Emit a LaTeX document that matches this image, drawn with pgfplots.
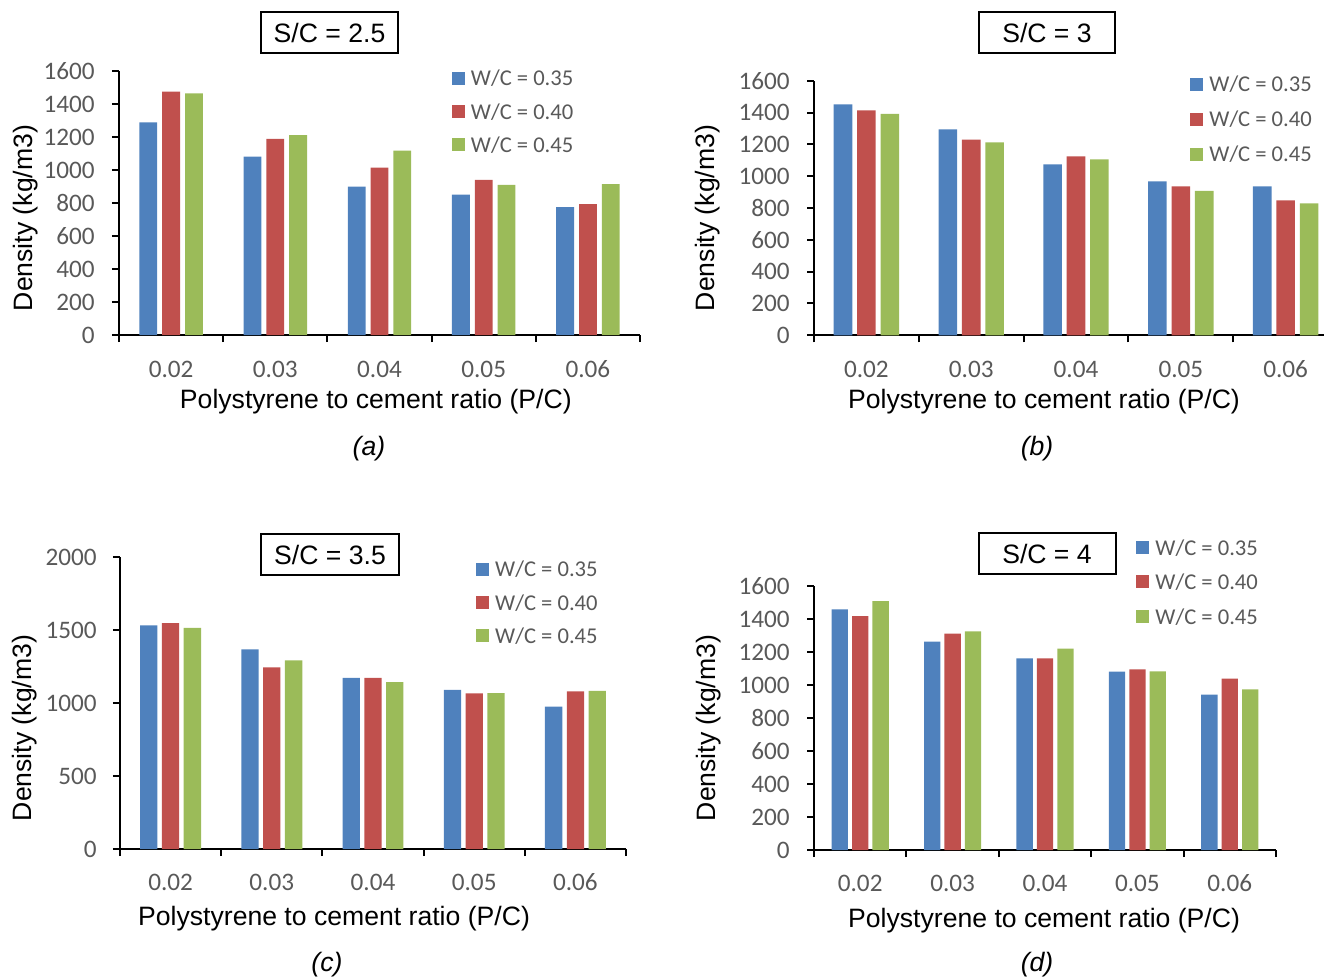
\documentclass[border=0pt]{standalone}
\usepackage{pgfplots}
\pgfplotsset{compat=1.18}
\usepackage{fontspec}
\setmainfont{Liberation Sans}
\newfontfamily\carlito{Carlito}

\definecolor{wcA}{HTML}{4F81BD}
\definecolor{wcB}{HTML}{C0504D}
\definecolor{wcC}{HTML}{9BBB59}
\definecolor{tickgray}{HTML}{595959}

\newcommand\labfont{\fontsize{13.3}{15}\selectfont}

\pgfplotsset{
  densitypanel/.style={
    scale only axis,
    anchor=south west,
    axis lines*=left,
    axis line style={-, line width=1pt, black},
    ybar,
    ymin=0,
    xmin=-0.5,
    xtick={0,1,2,3,4},
    xticklabels={0.02,0.03,0.04,0.05,0.06},
    major x tick style={draw=none},
    minor xtick={-0.5,0.5,1.5,2.5,3.5,4.5},
    minor x tick style={line width=1pt, black},
    y tick style={line width=1pt, black},
    tick align=outside,
    major tick length=3.5pt,
    minor tick length=3.5pt,
    /pgf/number format/1000 sep={},
    /pgf/number format/assume math mode=true,
    ticklabel style={font=\carlito\fontsize{12.6}{14}\selectfont, text=tickgray, inner sep=0pt},
    xticklabel style={anchor=center},
    yticklabel style={anchor=east},
    label style={font=\labfont, text=black},
    xlabel={Polystyrene to cement ratio (P/C)},
    ylabel={Density (kg/m3)},
    clip=false,
    legend cell align=left,
    legend image code/.code={\fill[#1, draw=none] (0pt,-3.2pt) rectangle (6.5pt,3.3pt);},
    legend style={draw=none, fill=none, inner sep=0pt, outer sep=0pt,
      anchor=north west,
      font=\carlito\fontsize{11.3}{13}\selectfont, text=tickgray,
      nodes={inner sep=0pt, text height=7.5pt, text depth=0pt},
      /tikz/every odd column/.append style={column sep=3pt}},
  },
  sA/.style={fill=wcA, draw=none},
  sB/.style={fill=wcB, draw=none},
  sC/.style={fill=wcC, draw=none},
}

\tikzset{sctitle/.style={draw=black, line width=1pt, font=\labfont, inner sep=0pt,
  minimum height=20.5pt}}

\begin{document}
\begin{tikzpicture}
\useasboundingbox (0,0) rectangle (662pt,-488pt);

% ---------- (a) S/C = 2.5 ----------
\begin{axis}[densitypanel,
  at={(59.5pt,-167.5pt)}, width=260.5pt, height=132pt,
  xmax=4.5, ymax=1600, ytick={0,200,...,1600},
  bar width=8.9pt,
  xticklabel style={yshift=-13.5pt}, yticklabel style={xshift=-8.5pt},
  xlabel style={at={(axis description cs:0.493,-0.253)}, anchor=center},
  ylabel style={at={(axis description cs:-0.180,0.443)}, anchor=center, rotate=0},
  legend style={at={(axis description cs:0.639,1.001)}, row sep=9.15pt},
]
\addplot[sA, bar shift=-11.4pt] coordinates {(0,1289) (1,1081) (2,900) (3,851) (4,775)};
\addplot[sB, bar shift=0pt] coordinates {(0,1475) (1,1188) (2,1015) (3,940) (4,793)};
\addplot[sC, bar shift=11.4pt] coordinates {(0,1465) (1,1211) (2,1118) (3,910) (4,914)};
\legend{W/C = 0.35, W/C = 0.40, W/C = 0.45}
\end{axis}

% ---------- (b) S/C = 3 ----------
\begin{axis}[densitypanel,
  at={(407pt,-167.65pt)}, width=255pt, height=127.3pt,
  xmax=4.366, ymax=1600, ytick={0,200,...,1600},
  bar width=9.3pt,
  xticklabel style={yshift=-13.5pt}, yticklabel style={xshift=-8.5pt},
  xlabel style={at={(axis description cs:0.451,-0.262)}, anchor=center},
  ylabel style={at={(axis description cs:-0.208,0.461)}, anchor=center, rotate=0},
  legend style={at={(axis description cs:0.738,1.016)}, row sep=10pt},
]
\addplot[sA, bar shift=-11.7pt] coordinates {(0,1451) (1,1294) (2,1074) (3,967) (4,936)};
\addplot[sB, bar shift=0pt] coordinates {(0,1414) (1,1229) (2,1125) (3,936) (4,848)};
\addplot[sC, bar shift=11.7pt] coordinates {(0,1391) (1,1213) (2,1106) (3,907) (4,829)};
\legend{W/C = 0.35, W/C = 0.40, W/C = 0.45}
\end{axis}

% ---------- (c) S/C = 3.5 ----------
\begin{axis}[densitypanel,
  at={(60pt,-424.5pt)}, width=253pt, height=145.8pt,
  xmax=4.5, ymax=2000, ytick={0,500,...,2000},
  bar width=8.65pt,
  xticklabel style={yshift=-13pt}, yticklabel style={xshift=-8pt},
  xlabel style={at={(axis description cs:0.423,-0.240)}, anchor=center},
  ylabel style={at={(axis description cs:-0.188,0.415)}, anchor=center, rotate=0},
  legend style={at={(axis description cs:0.704,0.985)}, row sep=9.15pt},
]
\addplot[sA, bar shift=-10.9pt] coordinates {(0,1534) (1,1369) (2,1173) (3,1091) (4,976)};
\addplot[sB, bar shift=0pt] coordinates {(0,1550) (1,1245) (2,1173) (3,1068) (4,1082)};
\addplot[sC, bar shift=10.9pt] coordinates {(0,1516) (1,1293) (2,1144) (3,1070) (4,1084)};
\legend{W/C = 0.35, W/C = 0.40, W/C = 0.45}
\end{axis}

% ---------- (d) S/C = 4 ----------
\begin{axis}[densitypanel,
  at={(407pt,-425pt)}, width=231pt, height=132pt,
  xmax=4.5, ymax=1600, ytick={0,200,...,1600},
  bar width=8.15pt,
  xticklabel style={yshift=-13pt}, yticklabel style={xshift=-8.5pt},
  xlabel style={at={(axis description cs:0.498,-0.266)}, anchor=center},
  ylabel style={at={(axis description cs:-0.229,0.462)}, anchor=center, rotate=0},
  legend style={at={(axis description cs:0.698,1.174)}, row sep=9.75pt},
]
\addplot[sA, bar shift=-10.2pt] coordinates {(0,1459) (1,1263) (2,1162) (3,1081) (4,941)};
\addplot[sB, bar shift=0pt] coordinates {(0,1418) (1,1311) (2,1162) (3,1095) (4,1038)};
\addplot[sC, bar shift=10.2pt] coordinates {(0,1509) (1,1325) (2,1220) (3,1083) (4,974)};
\legend{W/C = 0.35, W/C = 0.40, W/C = 0.45}
\end{axis}

% panel titles and captions
\node[sctitle, minimum width=68.5pt] at (164.75pt,-16.25pt) {S/C = 2.5};
\node[sctitle, minimum width=68pt]   at (523.5pt,-16.25pt)  {S/C = 3};
\node[sctitle, minimum width=69pt]   at (165pt,-277.25pt)   {S/C = 3.5};
\node[sctitle, minimum width=68.5pt] at (523.5pt,-276.75pt) {S/C = 4};
\node[font=\labfont\itshape] at (184.5pt,-224.5pt) {(a)};
\node[font=\labfont\itshape] at (518.5pt,-224.5pt) {(b)};
\node[font=\labfont\itshape] at (163.5pt,-482.5pt) {(c)};
\node[font=\labfont\itshape] at (518.5pt,-482.5pt) {(d)};
\end{tikzpicture}
\end{document}
